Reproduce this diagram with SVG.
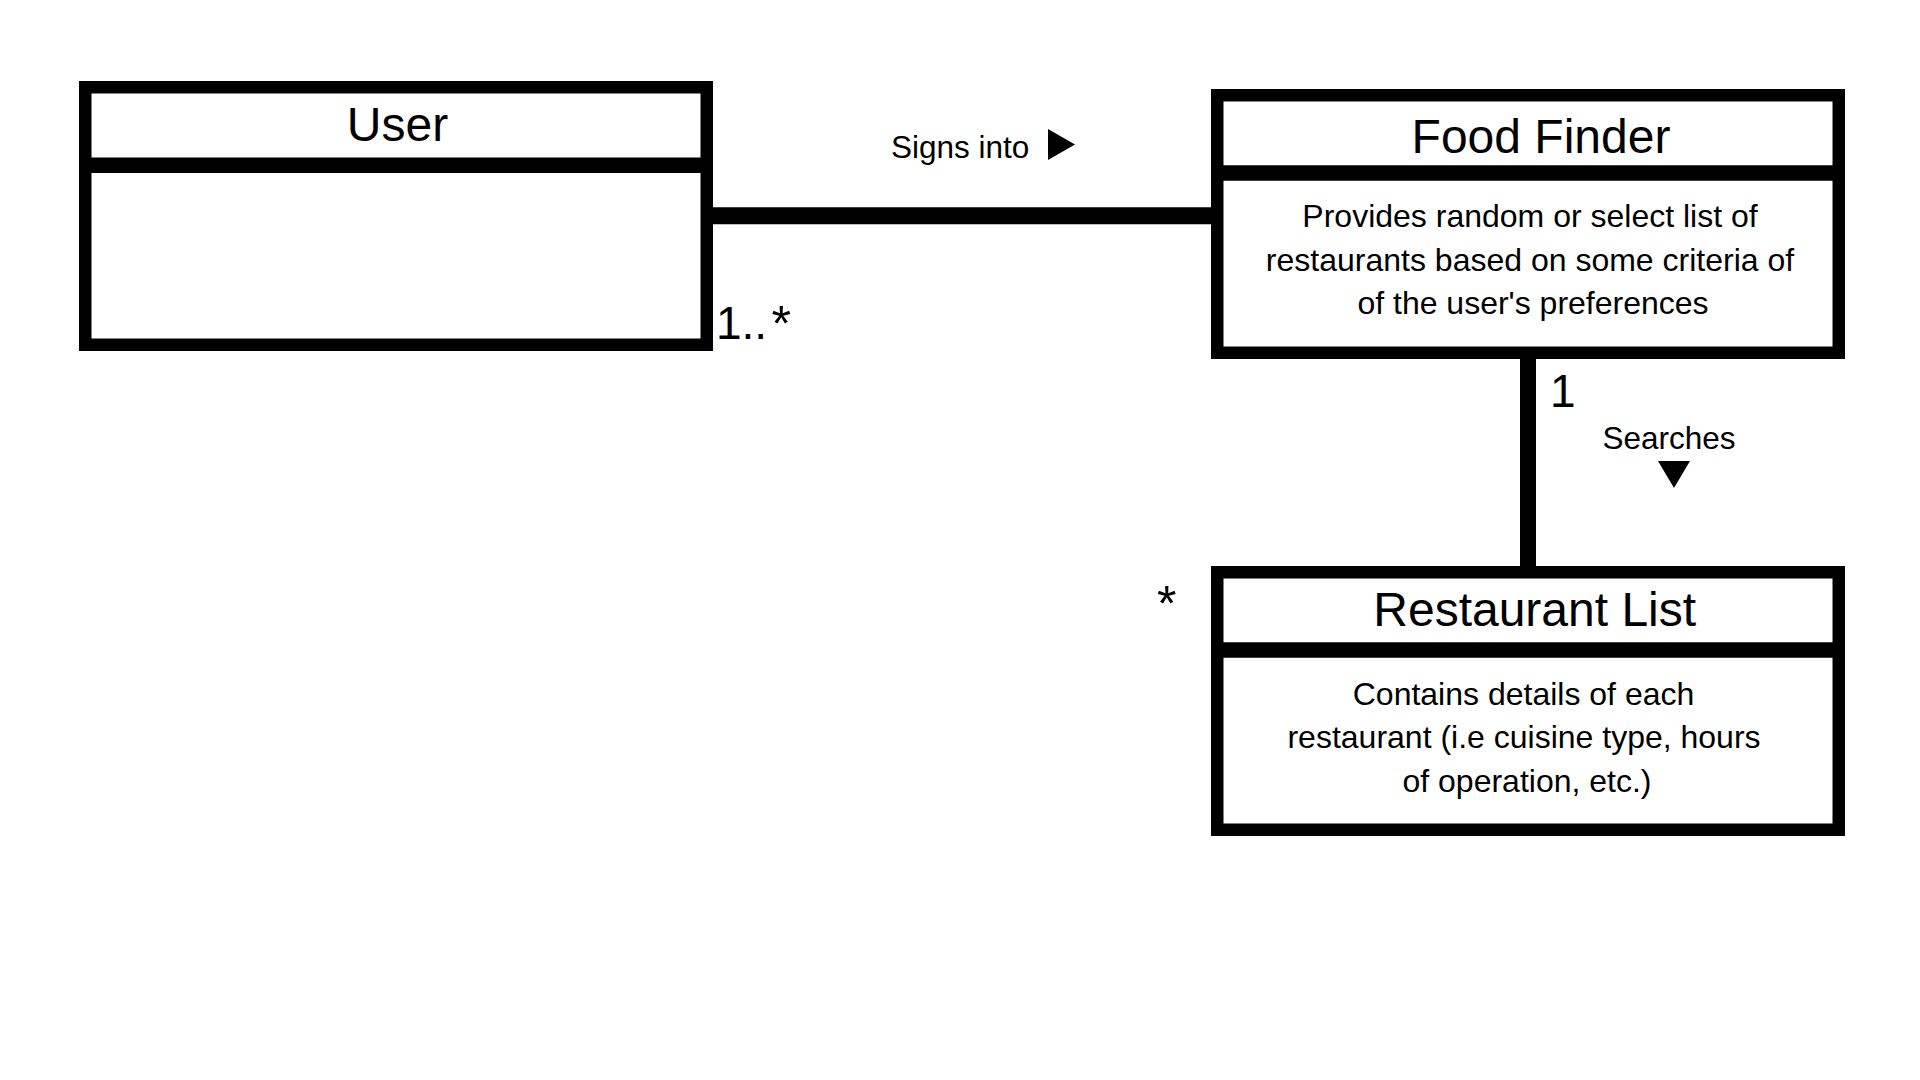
<svg xmlns="http://www.w3.org/2000/svg" width="1920" height="1080" viewBox="0 0 1920 1080">
<style>
.box{fill:#fff;stroke:#000;stroke-width:12.5}
.div{stroke:#000;stroke-width:15.5}
.conn{stroke:#000;fill:none}
text{font-family:"Liberation Sans",Arial,sans-serif;fill:#000}
.title{font-size:48px;text-anchor:middle}
.body{font-size:32px;text-anchor:middle}
.lbl{font-size:31.5px}
.mult{font-size:46px}
.star{font-size:50px}
</style>
<rect x="0" y="0" width="1920" height="1080" fill="#fff"/>
<g id="connectors">
<line class="conn" x1="713" y1="215.7" x2="1211" y2="215.7" stroke-width="17"/>
<line class="conn" x1="1528" y1="359" x2="1528" y2="566" stroke-width="16"/>
<text class="lbl" x="891" y="157.7">Signs into</text>
<polygon points="1048,129 1075,144.5 1048,160" fill="#000"/>
<text class="mult" x="716" y="339">1..<tspan class="star" x="771.5" y="341">*</tspan></text>
<text class="mult" x="1550" y="407">1</text>
<text class="lbl" x="1669" y="449.3" text-anchor="middle">Searches</text>
<polygon points="1658,461 1690,461 1674,488" fill="#000"/>
<text class="star" x="1157" y="620.5">*</text>
</g>
<g id="user">
<rect class="box" x="85.25" y="87.25" width="621.5" height="257.5"/>
<line class="div" x1="79" y1="165.2" x2="713" y2="165.2"/>
<text class="title" x="397.5" y="141">User</text>
</g>
<g id="food-finder">
<rect class="box" x="1217.25" y="95.25" width="621.5" height="257.5"/>
<line class="div" x1="1211" y1="172.9" x2="1845" y2="172.9"/>
<text class="title" x="1541" y="152.7">Food Finder</text>
<text class="body" x="1530" y="226.7">Provides random or select list of</text>
<text class="body" x="1530" y="270.5">restaurants based on some criteria of</text>
<text class="body" x="1533" y="313.8">of the user's preferences</text>
</g>
<g id="restaurant-list">
<rect class="box" x="1217.25" y="572.25" width="621.5" height="257.5"/>
<line class="div" x1="1211" y1="650" x2="1845" y2="650"/>
<text class="title" x="1534.7" y="626">Restaurant List</text>
<text class="body" x="1523.5" y="705">Contains details of each</text>
<text class="body" x="1524" y="748.3">restaurant (i.e cuisine type, hours</text>
<text class="body" x="1527" y="791.7">of operation, etc.)</text>
</g>
</svg>
